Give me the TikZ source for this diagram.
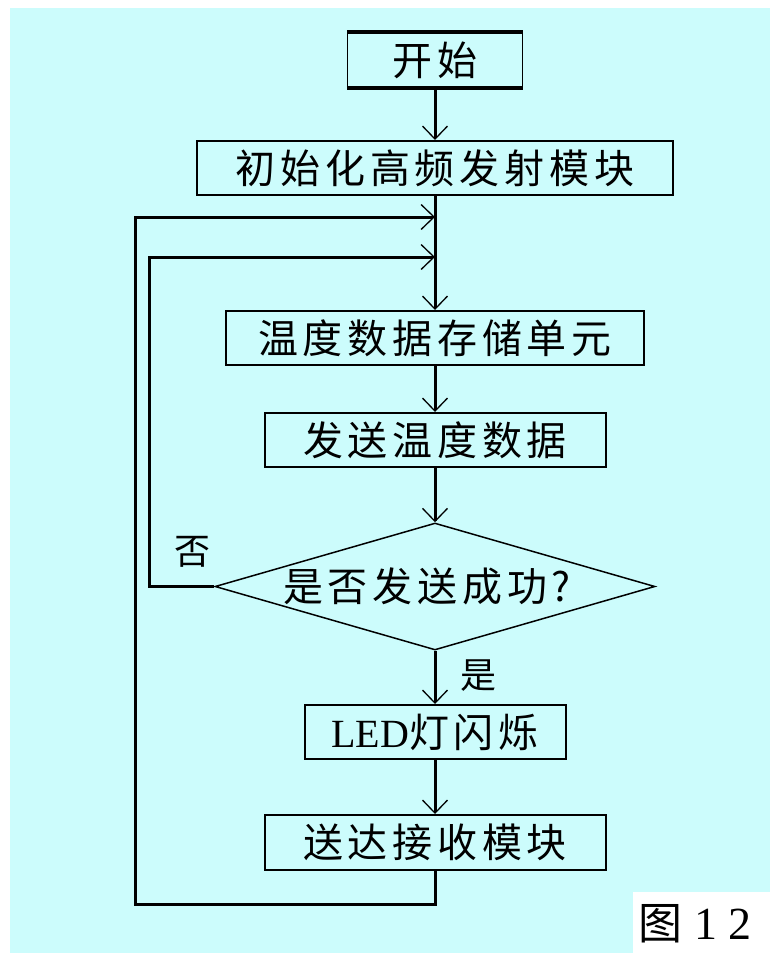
\documentclass[tikz,border=0pt]{standalone}
\usepackage{fontspec}
\usetikzlibrary{arrows.meta,shapes.geometric}
\newfontfamily\cjk{Noto Sans CJK SC}[LetterSpace=12]
\newfontfamily\cjkplain{Noto Sans CJK SC}
\newfontfamily\lat{Liberation Serif}
\definecolor{bgc}{RGB}{204,252,252}
\begin{document}
\begin{tikzpicture}[x=1pt,y=-1pt,
  box/.style={draw, line width=2pt, minimum height=54pt, inner sep=0pt,
    font=\cjk\fontsize{40}{42}\selectfont},
  conn/.style={line width=3pt},
  arr/.style={conn, -{Straight Barb[length=13pt 0, width=25pt 0, line width=1.3pt 0]}},
  lbl/.style={font=\cjkplain\fontsize{36}{38}\selectfont, inner sep=0pt}]
\useasboundingbox (0,0) rectangle (770,956);
\fill[white] (0,0) rectangle (770,956);
\fill[bgc] (10,8) rectangle (770,953);
\fill[white] (633,892) rectangle (770,956);

\node[box, minimum width=175pt, line width=1.5pt] (start) at (435,60) {开始};
\draw[line width=4pt] (start.north west) -- (start.north east);
\draw[line width=4pt] (start.south west) -- (start.south east);
\node[box, minimum width=476pt] (init) at (435,168) {初始化高频发射模块};
\node[box, minimum width=418pt] (store) at (435,338) {温度数据存储单元};
\node[box, minimum width=341pt] (send) at (435,440) {发送温度数据};
\node[draw, diamond, line width=1.5pt, minimum width=440pt, minimum height=127pt,
  inner sep=0pt, font=\cjk\fontsize{40}{42}\selectfont] (dec) at (435,586.5)
  {\makebox[0pt]{\hspace*{-16pt}是否发送成功?}};
\node[box, minimum width=261pt] (led) at (435,732) {{\lat\fontsize{40}{42}\selectfont LED}灯闪烁};
\node[box, minimum width=341pt, minimum height=55pt] (recv) at (435,842.5) {送达接收模块};
\node[lbl] (no) at (192,552) {否};
\node[lbl] (yes) at (478,676) {是};
\node[font=\cjkplain\fontsize{44}{46}\selectfont, inner sep=0pt] (fig) at (660,924) {图};
\node[font=\lat\fontsize{46}{48}\selectfont, inner sep=0pt, anchor=west] (fignum) at (694,924) {1 2};

\coordinate (j1) at (435,217);
\coordinate (j2) at (435,257);
\coordinate (l1) at (135,904);
\coordinate (l2) at (149,257);

\draw[arr] (start) -- (init);
\draw[arr] (init) -- (store);
\draw[arr] (store) -- (send);
\draw[arr] (send) -- (dec);
\draw[arr] (dec) -- (led);
\draw[arr] (led) -- (recv);
\draw[arr] (dec.west) -| (l2) -- (j2);
\draw[arr] (recv.south) |- (l1) |- (j1);
\end{tikzpicture}
\end{document}
